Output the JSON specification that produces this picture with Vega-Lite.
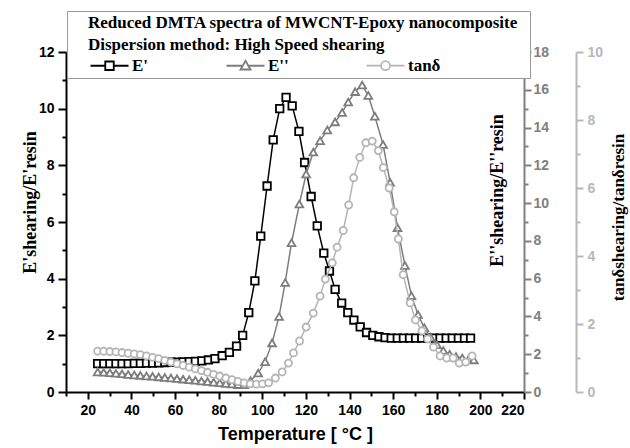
{
  "$schema": "https://vega.github.io/schema/vega-lite/v6.json",
  "width": 458,
  "height": 340,
  "autosize": "none",
  "padding": {"left": 66, "top": 52, "right": 106, "bottom": 56},
  "background": "white",
  "config": {
    "view": {"stroke": null},
    "axis": {"grid": false, "labelFont": "Liberation Sans", "labelFontWeight": "bold", "labelFontSize": 14, "domainWidth": 2, "tickWidth": 2}
  },
  "datasets": {
    "d": [
      {"s": "E'", "T": 24.5, "v": 1.0}, {"s": "E'", "T": 27.3, "v": 1.0}, {"s": "E'", "T": 30.1, "v": 1.0}, {"s": "E'", "T": 32.9, "v": 1.0},
      {"s": "E'", "T": 35.7, "v": 1.0}, {"s": "E'", "T": 38.5, "v": 1.0}, {"s": "E'", "T": 41.3, "v": 1.01}, {"s": "E'", "T": 44.1, "v": 1.01},
      {"s": "E'", "T": 46.9, "v": 1.02}, {"s": "E'", "T": 49.7, "v": 1.02}, {"s": "E'", "T": 52.5, "v": 1.03}, {"s": "E'", "T": 55.3, "v": 1.04},
      {"s": "E'", "T": 58.1, "v": 1.05}, {"s": "E'", "T": 60.9, "v": 1.05}, {"s": "E'", "T": 63.7, "v": 1.06}, {"s": "E'", "T": 66.5, "v": 1.07},
      {"s": "E'", "T": 69.3, "v": 1.08}, {"s": "E'", "T": 72.3, "v": 1.1}, {"s": "E'", "T": 75.3, "v": 1.13}, {"s": "E'", "T": 78.3, "v": 1.18},
      {"s": "E'", "T": 81.6, "v": 1.28}, {"s": "E'", "T": 84.9, "v": 1.4}, {"s": "E'", "T": 88.2, "v": 1.62}, {"s": "E'", "T": 91.0, "v": 2.0},
      {"s": "E'", "T": 93.8, "v": 2.8}, {"s": "E'", "T": 96.6, "v": 3.92}, {"s": "E'", "T": 99.3, "v": 5.5}, {"s": "E'", "T": 102.2, "v": 7.27},
      {"s": "E'", "T": 105.0, "v": 8.9}, {"s": "E'", "T": 108.0, "v": 10.0}, {"s": "E'", "T": 110.9, "v": 10.4}, {"s": "E'", "T": 113.7, "v": 10.1},
      {"s": "E'", "T": 116.8, "v": 9.2}, {"s": "E'", "T": 119.4, "v": 8.1}, {"s": "E'", "T": 122.4, "v": 6.9}, {"s": "E'", "T": 125.2, "v": 5.86},
      {"s": "E'", "T": 128.2, "v": 4.9}, {"s": "E'", "T": 130.8, "v": 4.27}, {"s": "E'", "T": 133.4, "v": 3.62}, {"s": "E'", "T": 136.4, "v": 3.14},
      {"s": "E'", "T": 139.2, "v": 2.8}, {"s": "E'", "T": 142.0, "v": 2.54}, {"s": "E'", "T": 144.9, "v": 2.3}, {"s": "E'", "T": 147.8, "v": 2.1},
      {"s": "E'", "T": 150.7, "v": 2.0}, {"s": "E'", "T": 153.5, "v": 1.95}, {"s": "E'", "T": 156.3, "v": 1.92}, {"s": "E'", "T": 159.1, "v": 1.9},
      {"s": "E'", "T": 161.9, "v": 1.9}, {"s": "E'", "T": 164.7, "v": 1.9}, {"s": "E'", "T": 167.5, "v": 1.9}, {"s": "E'", "T": 170.3, "v": 1.9},
      {"s": "E'", "T": 173.1, "v": 1.9}, {"s": "E'", "T": 175.9, "v": 1.9}, {"s": "E'", "T": 178.7, "v": 1.9}, {"s": "E'", "T": 181.5, "v": 1.9},
      {"s": "E'", "T": 184.3, "v": 1.9}, {"s": "E'", "T": 187.1, "v": 1.9}, {"s": "E'", "T": 189.9, "v": 1.9}, {"s": "E'", "T": 192.7, "v": 1.9},
      {"s": "E'", "T": 195.5, "v": 1.9},

      {"s": "E''", "T": 24.5, "v": 1.06}, {"s": "E''", "T": 27.3, "v": 1.04}, {"s": "E''", "T": 30.1, "v": 1.02}, {"s": "E''", "T": 32.9, "v": 0.99},
      {"s": "E''", "T": 35.7, "v": 0.96}, {"s": "E''", "T": 38.5, "v": 0.93}, {"s": "E''", "T": 41.3, "v": 0.9}, {"s": "E''", "T": 44.1, "v": 0.88},
      {"s": "E''", "T": 46.9, "v": 0.85}, {"s": "E''", "T": 49.7, "v": 0.83}, {"s": "E''", "T": 52.5, "v": 0.8}, {"s": "E''", "T": 55.3, "v": 0.77},
      {"s": "E''", "T": 58.1, "v": 0.74}, {"s": "E''", "T": 60.9, "v": 0.71}, {"s": "E''", "T": 63.7, "v": 0.68}, {"s": "E''", "T": 66.5, "v": 0.65},
      {"s": "E''", "T": 69.3, "v": 0.62}, {"s": "E''", "T": 72.1, "v": 0.58}, {"s": "E''", "T": 74.9, "v": 0.55}, {"s": "E''", "T": 77.7, "v": 0.52},
      {"s": "E''", "T": 80.5, "v": 0.49}, {"s": "E''", "T": 83.3, "v": 0.45}, {"s": "E''", "T": 86.1, "v": 0.42}, {"s": "E''", "T": 88.9, "v": 0.39},
      {"s": "E''", "T": 91.7, "v": 0.38}, {"s": "E''", "T": 94.6, "v": 0.6}, {"s": "E''", "T": 98.1, "v": 1.0}, {"s": "E''", "T": 101.3, "v": 1.6},
      {"s": "E''", "T": 104.5, "v": 2.6}, {"s": "E''", "T": 107.7, "v": 4.0}, {"s": "E''", "T": 110.5, "v": 5.8}, {"s": "E''", "T": 113.4, "v": 7.9},
      {"s": "E''", "T": 117.0, "v": 9.95}, {"s": "E''", "T": 120.1, "v": 11.54}, {"s": "E''", "T": 123.4, "v": 12.7}, {"s": "E''", "T": 126.5, "v": 13.3},
      {"s": "E''", "T": 129.8, "v": 13.87}, {"s": "E''", "T": 133.4, "v": 14.3}, {"s": "E''", "T": 136.6, "v": 14.8}, {"s": "E''", "T": 139.4, "v": 15.35},
      {"s": "E''", "T": 142.6, "v": 15.9}, {"s": "E''", "T": 145.8, "v": 16.25}, {"s": "E''", "T": 148.6, "v": 15.7}, {"s": "E''", "T": 151.6, "v": 14.6},
      {"s": "E''", "T": 155.4, "v": 13.1}, {"s": "E''", "T": 158.6, "v": 11.1}, {"s": "E''", "T": 162.0, "v": 8.7}, {"s": "E''", "T": 165.4, "v": 6.7},
      {"s": "E''", "T": 168.4, "v": 5.1}, {"s": "E''", "T": 171.4, "v": 4.1}, {"s": "E''", "T": 174.3, "v": 3.4}, {"s": "E''", "T": 177.2, "v": 2.9},
      {"s": "E''", "T": 180.1, "v": 2.5}, {"s": "E''", "T": 183.0, "v": 2.2}, {"s": "E''", "T": 185.9, "v": 2.0}, {"s": "E''", "T": 188.8, "v": 1.88},
      {"s": "E''", "T": 191.7, "v": 1.8}, {"s": "E''", "T": 194.6, "v": 1.74}, {"s": "E''", "T": 197.0, "v": 1.7},

      {"s": "tanδ", "T": 24.5, "v": 1.2}, {"s": "tanδ", "T": 27.3, "v": 1.2}, {"s": "tanδ", "T": 30.1, "v": 1.19}, {"s": "tanδ", "T": 32.9, "v": 1.18},
      {"s": "tanδ", "T": 35.7, "v": 1.16}, {"s": "tanδ", "T": 38.5, "v": 1.14}, {"s": "tanδ", "T": 41.3, "v": 1.12}, {"s": "tanδ", "T": 44.1, "v": 1.1},
      {"s": "tanδ", "T": 46.9, "v": 1.06}, {"s": "tanδ", "T": 49.7, "v": 1.02}, {"s": "tanδ", "T": 52.5, "v": 0.98}, {"s": "tanδ", "T": 55.3, "v": 0.93},
      {"s": "tanδ", "T": 58.1, "v": 0.88}, {"s": "tanδ", "T": 60.9, "v": 0.83}, {"s": "tanδ", "T": 63.7, "v": 0.78}, {"s": "tanδ", "T": 66.5, "v": 0.73},
      {"s": "tanδ", "T": 69.3, "v": 0.68}, {"s": "tanδ", "T": 72.1, "v": 0.63}, {"s": "tanδ", "T": 74.9, "v": 0.58}, {"s": "tanδ", "T": 77.7, "v": 0.52},
      {"s": "tanδ", "T": 80.5, "v": 0.47}, {"s": "tanδ", "T": 83.3, "v": 0.41}, {"s": "tanδ", "T": 86.1, "v": 0.36}, {"s": "tanδ", "T": 88.9, "v": 0.31},
      {"s": "tanδ", "T": 91.7, "v": 0.27}, {"s": "tanδ", "T": 94.5, "v": 0.24}, {"s": "tanδ", "T": 97.3, "v": 0.23}, {"s": "tanδ", "T": 100.1, "v": 0.24},
      {"s": "tanδ", "T": 102.9, "v": 0.27}, {"s": "tanδ", "T": 106.0, "v": 0.41}, {"s": "tanδ", "T": 109.1, "v": 0.59}, {"s": "tanδ", "T": 112.0, "v": 0.85},
      {"s": "tanδ", "T": 114.3, "v": 1.15}, {"s": "tanδ", "T": 117.1, "v": 1.5}, {"s": "tanδ", "T": 120.1, "v": 1.91}, {"s": "tanδ", "T": 123.4, "v": 2.32},
      {"s": "tanδ", "T": 126.5, "v": 2.82}, {"s": "tanδ", "T": 128.9, "v": 3.32}, {"s": "tanδ", "T": 132.1, "v": 3.8}, {"s": "tanδ", "T": 134.3, "v": 4.26},
      {"s": "tanδ", "T": 137.1, "v": 4.75}, {"s": "tanδ", "T": 139.6, "v": 5.5}, {"s": "tanδ", "T": 141.9, "v": 6.3}, {"s": "tanδ", "T": 144.7, "v": 6.9},
      {"s": "tanδ", "T": 147.5, "v": 7.33}, {"s": "tanδ", "T": 150.4, "v": 7.38}, {"s": "tanδ", "T": 153.2, "v": 7.1}, {"s": "tanδ", "T": 155.5, "v": 6.6},
      {"s": "tanδ", "T": 158.2, "v": 6.0}, {"s": "tanδ", "T": 160.5, "v": 5.3}, {"s": "tanδ", "T": 162.4, "v": 4.5}, {"s": "tanδ", "T": 164.6, "v": 3.45},
      {"s": "tanδ", "T": 167.8, "v": 2.62}, {"s": "tanδ", "T": 170.2, "v": 2.12}, {"s": "tanδ", "T": 173.2, "v": 1.8}, {"s": "tanδ", "T": 175.8, "v": 1.56},
      {"s": "tanδ", "T": 178.5, "v": 1.32}, {"s": "tanδ", "T": 181.5, "v": 1.06}, {"s": "tanδ", "T": 184.6, "v": 1.0}, {"s": "tanδ", "T": 187.5, "v": 1.0},
      {"s": "tanδ", "T": 190.3, "v": 0.85}, {"s": "tanδ", "T": 193.3, "v": 0.88}, {"s": "tanδ", "T": 196.2, "v": 1.06}
    ]
  },
  "data": {"name": "d"},
  "encoding": {
    "x": {
      "field": "T", "type": "quantitative",
      "scale": {"domain": [10, 220], "nice": false, "zero": false},
      "axis": {
        "values": [10, 20, 30, 40, 50, 60, 70, 80, 90, 100, 110, 120, 130, 140, 150, 160, 170, 180, 190, 200, 210, 220],
        "labelExpr": "datum.value % 20 === 0 ? datum.label : ''",
        "tickSize": {"condition": {"test": "datum.value % 20 === 0", "value": 7}, "value": 4},
        "labelPadding": 4, "domainColor": "black", "tickColor": "black", "labelColor": "black",
        "title": "Temperature [ °C ]", "titleFont": "Liberation Sans", "titleFontSize": 18, "titleFontWeight": "bold", "titleColor": "black", "titlePadding": 8
      }
    },
    "color": {
      "field": "s", "type": "nominal",
      "scale": {"domain": ["E'", "E''", "tanδ"], "range": ["#000000", "#7d7d7d", "#b5b5b5"]},
      "legend": {
        "orient": "none", "legendX": 1, "legendY": -41, "direction": "horizontal",
        "title": ["Reduced DMTA spectra of MWCNT-Epoxy nanocomposite", "Dispersion method: High Speed shearing"],
        "titleFont": "Liberation Serif", "titleFontSize": 17, "titleFontWeight": "bold", "titleColor": "black",
        "titleLineHeight": 22, "titleAnchor": "start", "titleAlign": "left", "titlePadding": 3, "titleLimit": 600,
        "labelFont": "Liberation Serif", "labelFontSize": 17, "labelFontWeight": "bold", "labelColor": "black", "labelLimit": 300,
        "strokeColor": "#999999", "fillColor": "white", "padding": 4,
        "symbolSize": 100, "symbolStrokeWidth": 2, "symbolFillColor": "white", "symbolOffset": 30,
        "labelOffset": 14, "columnPadding": 58,
        "encode": {
          "title": {"update": {"dx": {"value": 17}}},
          "symbols": {
            "update": {
              "shape": {"signal": "datum.index === 0 ? 'M-3.8,0H-0.85M0.85,0H3.8M-0.85,-0.85H0.85V0.85H-0.85Z' : datum.index === 1 ? 'M-3.8,0H-0.57M0.57,0H3.8M0,-1L1,0.75H-1Z' : 'M-3.8,0H-0.9M0.9,0H3.8M0.9,0A0.9,0.9,0,1,1,-0.9,0A0.9,0.9,0,1,1,0.9,0ZM27.2,0L27.2,0'"},
              "fill": {"value": "white"},
              "strokeWidth": {"value": 1.8},
              "opacity": {"value": 1}
            }
          }
        }
      }
    }
  },
  "layer": [
    {
      "transform": [{"filter": {"field": "s", "equal": "E'"}}],
      "encoding": {
        "y": {
          "field": "v", "type": "quantitative",
          "scale": {"domain": [0, 12], "nice": false, "zero": false},
          "axis": {
            "orient": "left",
            "values": [0, 1, 2, 3, 4, 5, 6, 7, 8, 9, 10, 11, 12],
            "labelExpr": "datum.value % 2 === 0 ? datum.label : ''",
            "tickSize": {"condition": {"test": "datum.value % 2 === 0", "value": 8}, "value": 4},
            "labelPadding": 4, "domainColor": "black", "tickColor": "black", "labelColor": "black",
            "title": "E'shearing/E'resin", "titleFont": "Liberation Serif", "titleFontSize": 18, "titleFontWeight": "bold", "titleColor": "black",
            "titleAngle": -90, "titleX": -36, "titleY": 150, "titleAlign": "center", "titleBaseline": "middle"
          }
        }
      },
      "layer": [
        {"mark": {"type": "line", "strokeWidth": 1.5}},
        {"mark": {"type": "point", "shape": "square", "filled": false, "fill": "white", "size": 56, "strokeWidth": 1.8, "opacity": 1}}
      ]
    },
    {
      "transform": [{"filter": {"field": "s", "equal": "E''"}}],
      "encoding": {
        "y": {
          "field": "v", "type": "quantitative",
          "scale": {"domain": [0, 18], "nice": false, "zero": false},
          "axis": {
            "orient": "right",
            "values": [0, 1, 2, 3, 4, 5, 6, 7, 8, 9, 10, 11, 12, 13, 14, 15, 16, 17, 18],
            "labelExpr": "datum.value % 2 === 0 ? datum.label : ''",
            "tickSize": {"condition": {"test": "datum.value % 2 === 0", "value": 7}, "value": 4},
            "labelPadding": 2, "domainColor": "#808080", "tickColor": "#808080", "labelColor": "#808080",
            "title": "E''shearing/E''resin", "titleFont": "Liberation Serif", "titleFontSize": 18, "titleFontWeight": "bold", "titleColor": "black",
            "titleAngle": -90, "titleX": -27, "titleY": 138, "titleAlign": "center", "titleBaseline": "middle"
          }
        }
      },
      "layer": [
        {"mark": {"type": "line", "strokeWidth": 1.5}},
        {"mark": {"type": "point", "shape": "triangle-up", "filled": false, "fill": "white", "size": 60, "strokeWidth": 1.8, "opacity": 1}}
      ]
    },
    {
      "transform": [{"filter": {"field": "s", "equal": "tanδ"}}],
      "encoding": {
        "y": {
          "field": "v", "type": "quantitative",
          "scale": {"domain": [0, 10], "nice": false, "zero": false},
          "axis": {
            "orient": "right", "offset": 52,
            "values": [0, 1, 2, 3, 4, 5, 6, 7, 8, 9, 10],
            "labelExpr": "datum.value % 2 === 0 ? datum.label : ''",
            "tickSize": {"condition": {"test": "datum.value % 2 === 0", "value": 7}, "value": 4},
            "labelPadding": 4, "domainColor": "#b8b8b8", "tickColor": "#b8b8b8", "labelColor": "#b8b8b8",
            "title": "tanδshearing/tanδresin", "titleFont": "Liberation Serif", "titleFontSize": 17, "titleFontWeight": "bold", "titleColor": "black",
            "titleAngle": -90, "titleX": 42, "titleY": 165, "titleAlign": "center", "titleBaseline": "middle"
          }
        }
      },
      "layer": [
        {"mark": {"type": "line", "strokeWidth": 1.5}},
        {"mark": {"type": "point", "shape": "circle", "filled": false, "fill": "white", "size": 50, "strokeWidth": 1.8, "opacity": 1}}
      ]
    }
  ],
  "resolve": {"scale": {"y": "independent"}}
}
